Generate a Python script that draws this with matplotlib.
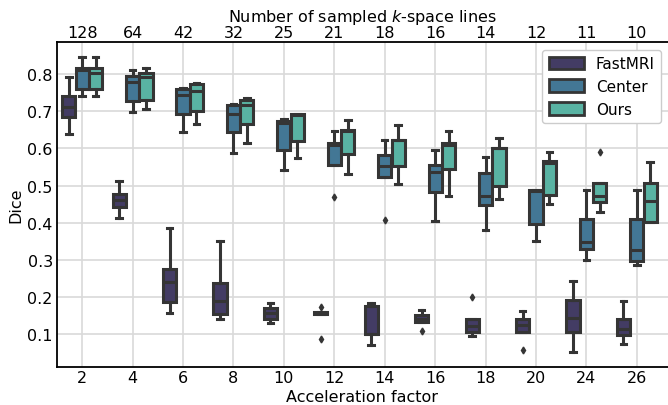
import matplotlib
matplotlib.use("Agg")
import matplotlib.pyplot as plt
from matplotlib.patches import Patch
import seaborn as sns

acc = [2, 4, 6, 8, 10, 12, 14, 16, 18, 20, 24, 26]
lines = [128, 64, 42, 32, 25, 21, 18, 16, 14, 12, 11, 10]
methods = ["FastMRI", "Center", "Ours"]

# box stats: low whisker, q1, median, q3, high whisker
fm_lo = [0.639, 0.412, 0.156, 0.140, 0.131, 0.154, 0.070, 0.133, 0.094, 0.106, 0.051, 0.072]
fm_q1 = [0.685, 0.441, 0.187, 0.154, 0.140, 0.154, 0.100, 0.133, 0.107, 0.106, 0.106, 0.098]
fm_med = [0.712, 0.460, 0.239, 0.190, 0.156, 0.157, 0.101, 0.141, 0.121, 0.124, 0.144, 0.113]
fm_q3 = [0.742, 0.477, 0.276, 0.238, 0.171, 0.160, 0.175, 0.151, 0.140, 0.142, 0.193, 0.142]
fm_hi = [0.792, 0.513, 0.385, 0.352, 0.184, 0.160, 0.185, 0.166, 0.141, 0.161, 0.242, 0.189]
fm_fl = [[], [], [], [], [], [0.172, 0.088], [], [0.108], [0.199], [0.056], [], []]

ce_lo = [0.740, 0.698, 0.643, 0.589, 0.541, 0.555, 0.522, 0.405, 0.380, 0.350, 0.299, 0.285]
ce_q1 = [0.760, 0.729, 0.693, 0.643, 0.597, 0.555, 0.522, 0.482, 0.448, 0.397, 0.328, 0.298]
ce_med = [0.810, 0.780, 0.744, 0.693, 0.668, 0.609, 0.552, 0.537, 0.473, 0.485, 0.349, 0.327]
ce_q3 = [0.817, 0.795, 0.760, 0.716, 0.673, 0.615, 0.582, 0.556, 0.533, 0.487, 0.411, 0.411]
ce_hi = [0.846, 0.811, 0.762, 0.720, 0.678, 0.647, 0.622, 0.596, 0.576, 0.488, 0.489, 0.489]
ce_fl = [[], [], [], [], [], [0.469], [0.406], [], [], [], [], []]

ou_lo = [0.740, 0.706, 0.666, 0.615, 0.575, 0.532, 0.503, 0.471, 0.465, 0.450, 0.429, 0.402]
ou_q1 = [0.760, 0.731, 0.701, 0.666, 0.619, 0.585, 0.553, 0.546, 0.498, 0.475, 0.457, 0.402]
ou_med = [0.803, 0.793, 0.755, 0.717, 0.690, 0.646, 0.622, 0.609, 0.600, 0.561, 0.471, 0.459]
ou_q3 = [0.817, 0.803, 0.773, 0.731, 0.693, 0.650, 0.624, 0.615, 0.602, 0.565, 0.508, 0.508]
ou_hi = [0.846, 0.816, 0.776, 0.735, 0.694, 0.676, 0.663, 0.646, 0.629, 0.590, 0.508, 0.564]
ou_fl = [[], [], [], [], [], [], [], [], [], [], [0.590], []]

series = [
    (fm_lo, fm_q1, fm_med, fm_q3, fm_hi, fm_fl),
    (ce_lo, ce_q1, ce_med, ce_q3, ce_hi, ce_fl),
    (ou_lo, ou_q1, ou_med, ou_q3, ou_hi, ou_fl),
]

colors = [sns.desaturate(c, 0.75) for c in sns.color_palette("mako", 3)]
edge = "#353535"
fs = 11.5

fig = plt.figure(figsize=(6.68, 4.06), dpi=100)
ax = fig.add_axes([57 / 668, 38 / 406, 611 / 668, 325 / 406])

w = 0.8 / 3
for k, (lo, q1, med, q3, hi, fl) in enumerate(series):
    stats = []
    for i in range(len(acc)):
        stats.append(dict(whislo=lo[i], q1=q1[i], med=med[i], q3=q3[i],
                          whishi=hi[i], fliers=fl[i]))
    pos = [i + (k - 1) * w for i in range(len(acc))]
    ax.bxp(stats, positions=pos, widths=w * 0.98, capwidths=0.11,
           patch_artist=True, showfliers=True, manage_ticks=False,
           boxprops=dict(facecolor=colors[k], edgecolor=edge, linewidth=2.2),
           medianprops=dict(color=edge, linewidth=2.2),
           whiskerprops=dict(color=edge, linewidth=2.2),
           capprops=dict(color=edge, linewidth=2.2),
           flierprops=dict(marker="d", markersize=3.5, markerfacecolor=edge,
                           markeredgecolor=edge))

ax.set_xlim(-0.5, 11.5 + 6 / 50.4)
ax.set_ylim(0.0114, 0.8867)
ax.set_xticks(range(len(acc)))
ax.set_xticklabels(acc)
ax.set_yticks([0.1, 0.2, 0.3, 0.4, 0.5, 0.6, 0.7, 0.8])
ax.grid(True, color="#d9d9d9", linewidth=1.2)
ax.set_axisbelow(True)
ax.tick_params(axis="x", length=0, labelsize=fs, pad=2.2)
ax.tick_params(axis="y", length=0, labelsize=fs, pad=3)
for s in ["left", "bottom", "top"]:
    ax.spines[s].set_color("black")
    ax.spines[s].set_linewidth(1.3)
ax.spines["right"].set_visible(False)
ax.set_xlabel("Acceleration factor", fontsize=fs, labelpad=2.5)
ax.set_ylabel("Dice", fontsize=fs, labelpad=3)

top = ax.twiny()
top.set_xlim(ax.get_xlim())
top.set_xticks(range(len(lines)))
top.set_xticklabels(lines)
top.tick_params(length=0, labelsize=fs, pad=1.2)
top.set_xlabel("Number of sampled $k$-space lines", fontsize=fs, labelpad=3)
for s in top.spines.values():
    s.set_visible(False)

handles = [Patch(facecolor=colors[k], edgecolor=edge, linewidth=2, label=m)
           for k, m in enumerate(methods)]
ax.legend(handles=handles, loc="upper right", bbox_to_anchor=(0.9885, 0.975),
          borderaxespad=0, fontsize=11, framealpha=1, edgecolor="#cccccc",
          fancybox=True, handlelength=2.3, handleheight=0.9)

fig.savefig("out.png", dpi=100)
